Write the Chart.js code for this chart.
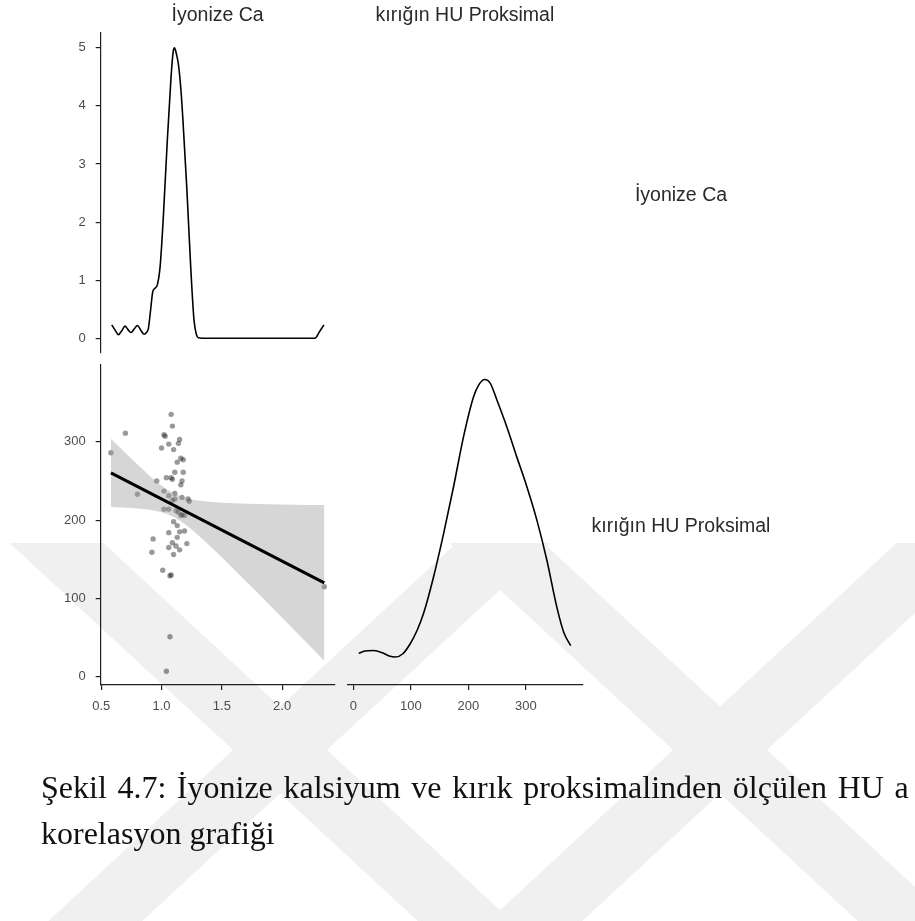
<!DOCTYPE html>
<html lang="tr">
<head>
<meta charset="utf-8">
<title>İyonize Ca – kırığın HU Proksimal</title>
<script src="https://cdn.jsdelivr.net/npm/chart.js@4.4.1/dist/chart.umd.min.js"></script>
<style>
  html, body { margin: 0; padding: 0; background: #fff; }
  body { width: 915px; height: 921px; position: relative; overflow: hidden;
         font-family: "Liberation Sans", Arial, sans-serif; }
  canvas { position: absolute; }
  .strip { position: absolute; font-size: 19.5px; line-height: 20px; height: 20px;
           color: #2a2a2a; white-space: nowrap; transform: translateX(-50%); }
  .caption { position: absolute; left: 41px; font-family: "Liberation Serif", "Times New Roman", serif;
             font-size: 32px; line-height: 32px; color: #111; white-space: nowrap; overflow: hidden; }
</style>
</head>
<body>
<canvas id="pageMark" width="915" height="921" style="left:0;top:0"></canvas>
<canvas id="caDensity" width="345" height="360" style="left:0;top:0"></canvas>
<canvas id="scatter" width="345" height="375" style="left:0;top:355px"></canvas>
<canvas id="huDensity" width="250" height="375" style="left:340px;top:355px"></canvas>

<div class="strip" style="left:217.6px;top:4px">İyonize Ca</div>
<div class="strip" style="left:464.9px;top:4px">kırığın HU Proksimal</div>
<div class="strip" style="left:681px;top:184px">İyonize Ca</div>
<div class="strip" style="left:681px;top:515px">kırığın HU Proksimal</div>

<div class="caption" style="top:771px;width:868px;height:40px;word-spacing:2.6px">Şekil 4.7: İyonize kalsiyum ve kırık proksimalinden ölçülen HU arasındaki</div>
<div class="caption" style="top:817px;height:40px">korelasyon grafiği</div>

<script>
// ---- İyonize Ca: kernel density (mmol/L vs density)
const caDensityX = [0.587, 0.615, 0.642, 0.670, 0.697, 0.722, 0.747, 0.773, 0.800, 0.828, 0.855, 0.875,
                    0.891, 0.910, 0.927, 0.945, 0.965, 0.988, 1.015, 1.048, 1.079, 1.090, 1.098, 1.106,
                    1.114, 1.125, 1.139, 1.160, 1.176, 1.209, 1.242, 1.269, 1.290, 1.305, 1.375,
                    2.273, 2.290, 2.309, 2.347];
const caDensityY = [0.23, 0.14, 0.06, 0.13, 0.21, 0.15, 0.10, 0.16, 0.22, 0.14, 0.07, 0.10,
                    0.17, 0.50, 0.80, 0.86, 0.92, 1.23, 2.09, 3.41, 4.50, 4.80, 4.95, 5.00,
                    4.97, 4.88, 4.73, 4.30, 3.81, 2.61, 1.23, 0.32, 0.06, 0.01, 0.00,
                    0.00, 0.04, 0.11, 0.23];

// ---- kırığın HU Proksimal: kernel density (×10⁻³ per HU)
const huDensityX = [9.2, 20, 35, 50, 62, 73, 86, 99, 111, 122, 139.4, 156.8, 174.1, 191.5, 208.9, 218,
                    228, 238, 249.5, 266.8, 284.2, 301.6, 319, 336.3, 353.6, 366, 377.9];
const huDensityY = [0.32, 0.36, 0.37, 0.33, 0.27, 0.25, 0.31, 0.50, 0.75, 1.06, 1.74, 2.54, 3.41, 4.34, 5.08, 5.30,
                    5.40, 5.33, 5.02, 4.52, 3.96, 3.41, 2.79, 2.05, 1.18, 0.70, 0.46];

// ---- paired observations
const caValues = [0.58, 0.70, 0.80, 0.96, 1.00, 1.02, 1.03, 1.06, 1.08, 1.09, 1.10, 1.14, 1.15, 1.13, 1.16,
                  1.18, 1.18, 1.11, 1.08, 1.04, 1.09, 1.17, 1.16, 1.02, 1.11, 1.06, 1.11, 1.17, 1.22, 1.23,
                  1.02, 1.06, 1.12, 1.16, 1.17, 1.19, 1.10, 1.13, 1.15, 1.19, 1.06, 1.13, 1.09, 1.21, 0.93,
                  0.92, 1.06, 1.12, 1.15, 1.10, 1.01, 1.07, 1.08, 1.07, 1.04, 2.35, 1.09, 1.14];
const huValues = [286, 311, 233, 250, 292, 309, 307, 297, 335, 320, 290, 298, 303, 274, 279,
                  277, 261, 261, 254, 254, 252, 250, 245, 237, 234, 231, 227, 229, 227, 224,
                  214, 214, 212, 206, 207, 206, 198, 193, 185, 186, 184, 178, 171, 170, 176,
                  159, 165, 167, 162, 156, 136, 129, 130, 51, 7, 115, 225, 210];

// ---- linear fit with 95% confidence band
const fitCa = [0.58, 2.35];
const fitHu = [260.3, 119.9];
const bandCa    = [0.58, 0.75, 0.90, 1.00, 1.10, 1.20, 1.40, 1.60, 1.80, 2.00, 2.20, 2.35];
const bandUpper = [303.8, 278.2, 256.7, 244.1, 234.3, 228.2, 223.3, 221.5, 220.6, 219.9, 219.4, 219.2];
const bandLower = [216.8, 215.4, 213.1, 209.9, 203.9, 194.0, 167.3, 137.3, 106.6, 75.5, 44.2, 20.6];

// ---- axis ticks
const caTicks = [0.5, 1.0, 1.5, 2.0];
const huTicks = [0, 100, 200, 300];
const densityTicks = [0, 1, 2, 3, 4, 5];

// ---- shared ranges
const CA_RANGE = [0.4955, 2.4345];
const HU_RANGE = [-10.5, 398];

const AXIS_COLOR = '#1f1f1f';
const LABEL_COLOR = '#4d4d4d';
const TICK_FONT = { family: "'Liberation Sans', Arial, sans-serif", size: 13 };

// Faint page emblem behind the figure: two crossed stripe pairs on the lower half.
(function drawPageMark() {
  const ctx = document.getElementById('pageMark').getContext('2d');
  const top = 543, bottom = 921, halfW = 47, slope = 1.08;
  ctx.save();
  ctx.beginPath();
  ctx.rect(0, top, 915, bottom - top);
  ctx.clip();
  ctx.fillStyle = '#f0f0f0';
  [[280, 750], [720, 750]].forEach(([cx, cy]) => {
    [slope, -slope].forEach(k => {
      const xa = cx + (top - cy) * k, xb = cx + (bottom - cy) * k;
      ctx.beginPath();
      ctx.moveTo(xa - halfW, top);
      ctx.lineTo(xa + halfW, top);
      ctx.lineTo(xb + halfW, bottom);
      ctx.lineTo(xb - halfW, bottom);
      ctx.closePath();
      ctx.fill();
    });
  });
  ctx.restore();
})();

const zip = (xs, ys) => xs.map((x, i) => ({ x, y: ys[i] }));
const fixedTicks = values => s => { s.ticks = values.map(v => ({ value: v })); };

function leftAxis(range, values, width, decimals) {
  return {
    type: 'linear', position: 'left', min: range[0], max: range[1],
    afterBuildTicks: fixedTicks(values),
    afterFit: s => { s.width = width; s.paddingTop = 0; s.paddingBottom = 0; },
    border: { display: true, color: AXIS_COLOR, width: 1.2 },
    grid: { display: true, drawOnChartArea: false, drawTicks: true, tickLength: 5, color: AXIS_COLOR, lineWidth: 1.2 },
    ticks: { color: LABEL_COLOR, font: TICK_FONT, padding: 10, autoSkip: false, maxRotation: 0,
             callback: v => Number(v).toFixed(decimals) }
  };
}
function bottomAxis(range, values, height, decimals) {
  return {
    type: 'linear', position: 'bottom', min: range[0], max: range[1],
    afterBuildTicks: fixedTicks(values),
    afterFit: s => { s.height = height; s.paddingLeft = 0; s.paddingRight = 0; },
    border: { display: true, color: AXIS_COLOR, width: 1.2 },
    grid: { display: true, drawOnChartArea: false, drawTicks: true, tickLength: 5, color: AXIS_COLOR, lineWidth: 1.2 },
    ticks: { color: LABEL_COLOR, font: TICK_FONT, padding: 9, autoSkip: false, maxRotation: 0,
             callback: v => Number(v).toFixed(decimals) }
  };
}
const hiddenAxis = range => ({ type: 'linear', display: false, min: range[0], max: range[1] });

const baseOptions = (padding, scales) => ({
  responsive: false, animation: false, events: [],
  layout: { padding, autoPadding: false },
  plugins: { legend: { display: false }, tooltip: { enabled: false } },
  scales
});

const curve = data => ({
  data, showLine: true, pointRadius: 0, borderColor: '#000', borderWidth: 1.6,
  cubicInterpolationMode: 'monotone', fill: false
});

// Row 1, column 1: density of İyonize Ca
new Chart(document.getElementById('caDensity'), {
  type: 'scatter',
  data: { datasets: [curve(zip(caDensityX, caDensityY))] },
  options: baseOptions({ left: 0, top: 32.7, right: 10.5, bottom: 7.7 }, {
    x: hiddenAxis(CA_RANGE),
    y: leftAxis([-0.241, 5.26], densityTicks, 100.7, 0)
  })
});

// Row 2, column 1: HU against İyonize Ca with linear fit
new Chart(document.getElementById('scatter'), {
  type: 'scatter',
  data: {
    datasets: [
      { data: zip(fitCa, fitHu), showLine: true, pointRadius: 0, borderColor: '#000', borderWidth: 3, fill: false },
      { data: zip(bandCa, bandUpper), showLine: true, pointRadius: 0, borderWidth: 0, borderColor: 'rgba(0,0,0,0)',
        cubicInterpolationMode: 'monotone', fill: '+1', backgroundColor: 'rgba(153,153,153,0.4)' },
      { data: zip(bandCa, bandLower), showLine: true, pointRadius: 0, borderWidth: 0, borderColor: 'rgba(0,0,0,0)',
        cubicInterpolationMode: 'monotone', fill: false },
      { data: zip(caValues, huValues), pointRadius: 2.7, borderWidth: 0, backgroundColor: 'rgba(0,0,0,0.4)' }
    ]
  },
  options: baseOptions({ left: 0, top: 10, right: 10.5, bottom: 0 }, {
    x: bottomAxis(CA_RANGE, caTicks, 45, 1),
    y: leftAxis(HU_RANGE, huTicks, 100.7, 0)
  })
});

// Row 2, column 2: density of kırığın HU Proksimal
new Chart(document.getElementById('huDensity'), {
  type: 'scatter',
  data: { datasets: [curve(zip(huDensityX, huDensityY))] },
  options: baseOptions({ left: 7.4, top: 10, right: 7.7, bottom: 0 }, {
    x: bottomAxis(HU_RANGE, huTicks, 45, 0),
    y: hiddenAxis([-0.27, 5.67])
  })
});
</script>
</body>
</html>
